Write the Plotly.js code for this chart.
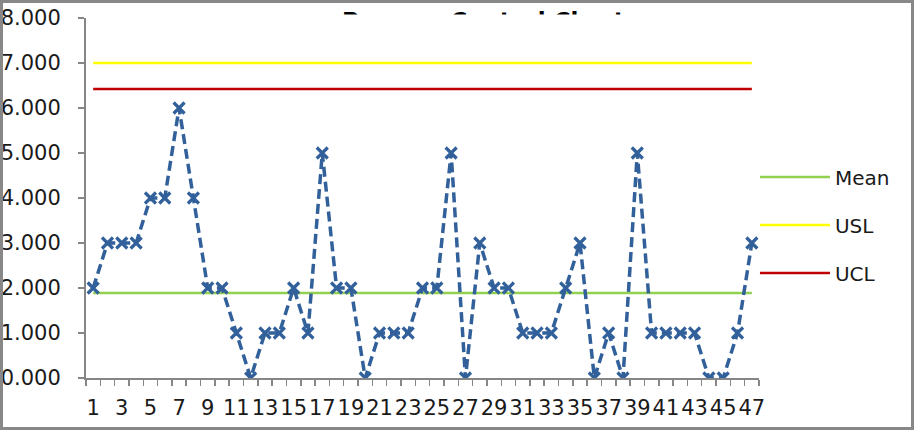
<!DOCTYPE html>
<html>
<head>
<meta charset="utf-8">
<script src="https://cdn.plot.ly/plotly-3.0.1.min.js"></script>
<style>html,body{margin:0;padding:0;background:#fff;}#chart{width:914px;height:430px;}</style>
</head>
<body>
<div id="chart"></div>
<script>
// ---- data ----
var samples = [1,2,3,4,5,6,7,8,9,10,11,12,13,14,15,16,17,18,19,20,21,22,23,24,25,26,27,28,29,30,31,32,33,34,35,36,37,38,39,40,41,42,43,44,45,46,47];
var values  = [2,3,3,3,4,4,6,4,2,2, 1,0,1,1,2,1,5,2,2,0, 1,1,1,2,2,5,0,3,2,2, 1,1,1,2,3,0,1,0,5,1, 1,1,1,0,0,1,3];
var meanValue = 1.89;
var uslValue  = 7.0;
var uclValue  = 6.42;
var tickLabelVals = [1,3,5,7,9,11,13,15,17,19,21,23,25,27,29,31,33,35,37,39,41,43,45,47];
var titleText = "Process Control Chart";

var first = samples[0], last = samples[samples.length-1];
var FONT = "DejaVu Sans, Verdana, sans-serif";
var AXC = "#868686";

// pixel helpers for paper coordinates (plot area 86..759 x, 18..378 y)
var L = 86, R = 759, T = 18, B = 378;
function px(x){ return (x - L) / (R - L); }
function py(y){ return (B - y) / (B - T); }

function flat(name, v, color){
  return {x:[first,last], y:[v,v], type:'scatter', mode:'lines', name:name,
          legendgroup:name, line:{color:color, width:2.5}, hoverinfo:'skip'};
}

var traces = [
  flat('Mean', meanValue, '#92D050'),
  flat('USL', uslValue, '#FFFF00'),
  flat('UCL', uclValue, '#C00000'),
  {x:samples, y:values, type:'scatter', mode:'lines+markers', name:'Defects', showlegend:false,
   line:{color:'#31609A', width:3.5, dash:'10px,5px'},
   marker:{symbol:'x-thin', size:11, color:'#31609A', line:{color:'#31609A', width:3.2}}}
];

var layout = {
  width:914, height:430,
  margin:{l:L, r:914-R, t:T, b:430-B, pad:0, autoexpand:false},
  paper_bgcolor:'#ffffff', plot_bgcolor:'#ffffff',
  font:{family:FONT, size:20, color:'#1a1a1a'},
  showlegend:true,
  legend:{xref:'container', yref:'container', x:0.826, y:0.634, xanchor:'left', yanchor:'top',
          font:{family:FONT, size:20, color:'#1a1a1a'}, itemwidth:70, tracegroupgap:19,
          bgcolor:'rgba(0,0,0,0)', traceorder:'grouped'},
  xaxis:{range:[first-0.5, last+0.5], showgrid:false, zeroline:false, showline:true,
         linecolor:AXC, linewidth:2, tickmode:'array', tickvals:tickLabelVals,
         ticktext:tickLabelVals.map(String), ticks:'', ticklabelstandoff:10, tickangle:0,
         tickfont:{family:FONT, size:21, color:'#1a1a1a'},
         minor:{tick0:0.5, dtick:1, ticks:'outside', ticklen:6, tickcolor:AXC, tickwidth:1.5}},
  yaxis:{range:[0,8], dtick:1, tick0:0, tickformat:'.3f', showgrid:false, zeroline:false,
         showline:true, linecolor:AXC, linewidth:2, ticks:'outside', ticklen:6,
         tickcolor:AXC, tickwidth:1.5, ticklabelstandoff:13,
         tickfont:{family:FONT, size:21, color:'#1a1a1a'}},
  annotations:[
    {text:'<b>'+titleText+'</b>', xref:'paper', yref:'paper', x:px(483), y:py(6),
     xanchor:'center', yanchor:'top', showarrow:false,
     font:{family:FONT, size:23, color:'#000000'}},
    {text:' ', xref:'paper', yref:'paper', x:px(320), y:py(14), xanchor:'left', yanchor:'top',
     width:340, height:30, bgcolor:'#ffffff', borderpad:0, showarrow:false}
  ],
  shapes:[
    {type:'rect', xref:'paper', yref:'paper', x0:px(1.5), x1:px(912.5), y0:py(428.5), y1:py(1.5),
     line:{color:'#888888', width:3}, fillcolor:'rgba(0,0,0,0)', layer:'above'}
  ]
};

Plotly.newPlot('chart', traces, layout, {displayModeBar:false, staticPlot:true});
</script>
</body>
</html>
